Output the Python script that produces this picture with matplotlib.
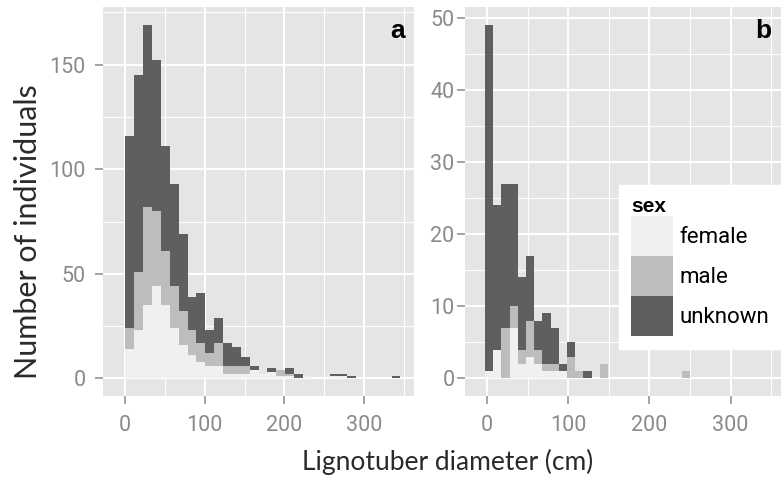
import numpy as np
import matplotlib.pyplot as plt
from matplotlib.ticker import MultipleLocator

# =========================
# Data (counts per size class)
# =========================
sexes = ["female", "male", "unknown"]

# panel a
a_female = [14, 23, 35, 44, 35, 24, 16, 11, 8, 6, 6, 2, 2, 2, 4, 2,
            3, 1, 1, 0, 1, 0, 0, 1, 1, 0, 0, 0, 0, 0, 0]
a_male = [10, 28, 47, 36, 26, 20, 16, 12, 9, 6, 11, 4, 4, 4, 0, 0,
          0, 3, 1, 0, 0, 0, 0, 0, 0, 0, 0, 0, 0, 0, 0]
a_unknown = [92, 94, 87, 72, 50, 49, 37, 16, 24, 11, 12, 11, 9, 4, 2, 0,
             2, 0, 3, 2, 0, 0, 0, 1, 1, 1, 0, 0, 0, 0, 1]

# panel b
b_female = [1, 4, 0, 7, 2, 3, 2, 1, 1, 1, 0, 0, 0, 0, 0, 0,
            0, 0, 0, 0, 0, 0, 0, 0, 0]
b_male = [0, 0, 7, 3, 2, 5, 2, 1, 1, 0, 3, 1, 0, 0, 2, 0,
          0, 0, 0, 0, 0, 0, 0, 0, 1]
b_unknown = [48, 20, 20, 17, 10, 9, 4, 7, 5, 1, 2, 0, 1, 0, 0, 0,
             0, 0, 0, 0, 0, 0, 0, 0, 0]

# bin layout (cm)
a_bin_start, a_bin_width = 1.0, 11.1
b_bin_start, b_bin_width = -2.4, 10.1

x_ticks = [0, 100, 200, 300]

# =========================
# Style
# =========================
fills = {"female": "#F0F0F0", "male": "#BDBDBD", "unknown": "#5F5F5F"}
panel_bg = "#E5E5E5"
tick_grey = "#8A8A8A"


def draw_panel(ax, counts, start, width, ylim, ymajor, label, ypad):
    n = len(counts[0])
    lefts = start + width * np.arange(n)
    bottom = np.zeros(n)
    handles = []
    for sex, vals in zip(sexes, counts):
        vals = np.array(vals, dtype=float)
        h = ax.bar(lefts, vals, width=width, bottom=bottom, align="edge",
                   color=fills[sex], linewidth=0, label=sex, zorder=3)
        handles.append(h)
        bottom += vals

    ax.set_facecolor(panel_bg)
    ax.set_xlim(-27, 362)
    ax.set_ylim(*ylim)
    ax.set_xticks(x_ticks)
    ax.xaxis.set_minor_locator(MultipleLocator(50))
    ax.yaxis.set_major_locator(MultipleLocator(ymajor))
    ax.yaxis.set_minor_locator(MultipleLocator(ymajor / 2))
    ax.grid(which="major", color="white", linewidth=1.4, zorder=0)
    ax.grid(which="minor", color="white", linewidth=0.8, zorder=0)
    ax.set_axisbelow(True)
    for s in ax.spines.values():
        s.set_visible(False)
    ax.tick_params(which="major", length=5.5, width=1.1, color=tick_grey,
                   labelcolor=tick_grey, labelsize=15.5)
    ax.tick_params(axis="x", pad=8)
    ax.tick_params(axis="y", pad=ypad)
    ax.tick_params(which="minor", length=0)
    for t in ax.get_xticklabels() + ax.get_yticklabels():
        t.set_family("Roboto")
    ax.text(0.97, 0.97, label, transform=ax.transAxes, ha="right", va="top",
            fontsize=19, fontweight="bold", family="Liberation Sans", zorder=5)
    return handles


fig = plt.figure(figsize=(7.81, 4.83), dpi=100)
ax_a = fig.add_axes([0.1319, 0.180, 0.3982, 0.805])
ax_b = fig.add_axes([0.5954, 0.180, 0.4046, 0.805])

draw_panel(ax_a, [a_female, a_male, a_unknown], a_bin_start, a_bin_width,
           (-8.45, 177.45), 50, "a", 7)
handles = draw_panel(ax_b, [b_female, b_male, b_unknown], b_bin_start,
                     b_bin_width, (-2.45, 51.45), 10, "b", 2)

leg = ax_b.legend(handles=handles, labels=sexes, title="sex",
                  loc="upper left", bbox_to_anchor=(0.488, 0.543),
                  frameon=True, fancybox=False, framealpha=1,
                  facecolor="white", edgecolor="white",
                  prop={"family": "Roboto", "size": 16},
                  title_fontproperties={"family": "Liberation Sans",
                                        "weight": "bold", "size": 15},
                  handlelength=1.85, handleheight=2.4, labelspacing=0,
                  handletextpad=0.3, borderpad=0.55, borderaxespad=0)
leg._legend_box.align = "left"
leg.set_zorder(6)

fig.text(0.036, 0.52, "Number of individuals", rotation=90, ha="center",
         va="center", fontsize=22, family="Lato", color="#2a2a2a")
fig.text(0.5736, 0.043, "Lignotuber diameter (cm)", ha="center",
         va="center", fontsize=19, family="Lato", color="#2a2a2a")

fig.savefig("out.png", dpi=100)
